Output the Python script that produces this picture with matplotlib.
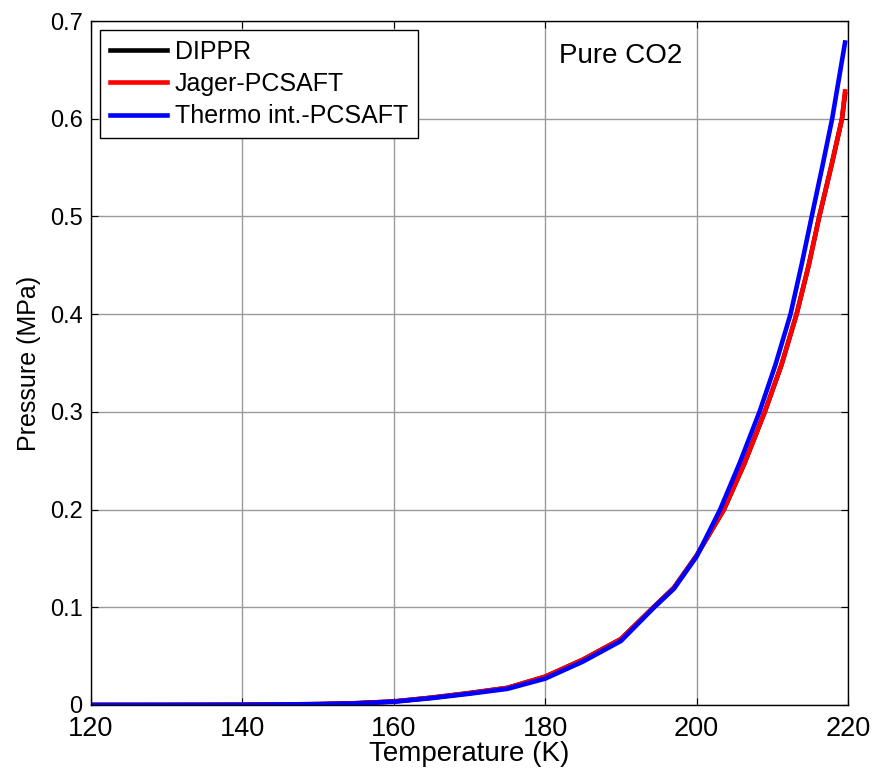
import matplotlib
matplotlib.use('Agg')
from matplotlib import pyplot as plt
from matplotlib.ticker import FuncFormatter

plt.rcParams['font.family'] = ['Liberation Sans', 'DejaVu Sans']

# temperatures (K) and saturation pressures (MPa)
temp = [120, 130, 140, 150, 155, 160, 165, 170, 175, 180, 185, 190, 194.3,
        197, 200, 203.6, 206.3, 209.0, 211.2, 213.2, 214.8, 216.2, 217.8,
        219.2, 219.6]
p_dippr = [0.00001, 0.00004, 0.0002, 0.0009, 0.0018, 0.0036, 0.0075, 0.0122,
           0.0175, 0.029, 0.0465, 0.0675, 0.1, 0.12, 0.153, 0.2, 0.247, 0.3,
           0.348, 0.4, 0.45, 0.5, 0.552, 0.6, 0.625]
p_jager = [0.00001, 0.00004, 0.0002, 0.0009, 0.0018, 0.0036, 0.0075, 0.0122,
           0.0175, 0.029, 0.0465, 0.0675, 0.1, 0.12, 0.153, 0.2, 0.247, 0.3,
           0.348, 0.4, 0.45, 0.5, 0.552, 0.6, 0.628]
temp_thermo = [120, 130, 140, 150, 155, 160, 165, 170, 175, 180, 185, 190,
               194.4, 197, 200, 203.1, 205.7, 208.3, 210.4, 212.4, 213.9,
               215.2, 216.6, 217.9, 219.6]
p_thermo = [0.00001, 0.00004, 0.0002, 0.0008, 0.0016, 0.0033, 0.007, 0.0115,
            0.0165, 0.027, 0.0445, 0.0655, 0.1, 0.119, 0.152, 0.2, 0.248, 0.3,
            0.348, 0.4, 0.452, 0.5, 0.551, 0.6, 0.678]

fig = plt.figure(figsize=(8.77, 7.73), dpi=100)
ax = fig.add_axes([0.1038, 0.088, 0.8632, 0.8848])

ax.plot(temp, p_dippr, color='black', lw=3.3, label='DIPPR')
ax.plot(temp, p_jager, color='red', lw=3.3, label='Jager-PCSAFT')
ax.plot(temp_thermo, p_thermo, color='blue', lw=3.3, label='Thermo int.-PCSAFT')

ax.set_xlim(120, 220)
ax.set_ylim(0, 0.7)
ax.set_xticks([120, 140, 160, 180, 200, 220])
ax.set_yticks([0, 0.1, 0.2, 0.3, 0.4, 0.5, 0.6, 0.7])
ax.yaxis.set_major_formatter(FuncFormatter(lambda v, p: '0' if v == 0 else '%g' % round(v, 1)))
ax.grid(True, color='#9a9a9a', lw=1)
ax.set_axisbelow(True)
ax.tick_params(direction='in', top=True, right=True, length=5)
ax.tick_params(axis='y', labelsize=17, pad=6)
ax.tick_params(axis='x', labelsize=19.5, pad=8)
for s in ax.spines.values():
    s.set_linewidth(1)

ax.set_xlabel('Temperature (K)', fontsize=20, labelpad=-1)
ax.set_ylabel('Pressure (MPa)', fontsize=18, labelpad=6)

ax.text(190, 0.664, 'Pure CO2', fontsize=20, ha='center', va='center')

leg = ax.legend(loc='upper left', fontsize=18, fancybox=False, framealpha=1,
                edgecolor='black', borderaxespad=0.35, handlelength=2.3,
                handletextpad=0.3, labelspacing=0.33, borderpad=0.4)
leg.get_frame().set_linewidth(1)

fig.savefig('out.png', dpi=100)
